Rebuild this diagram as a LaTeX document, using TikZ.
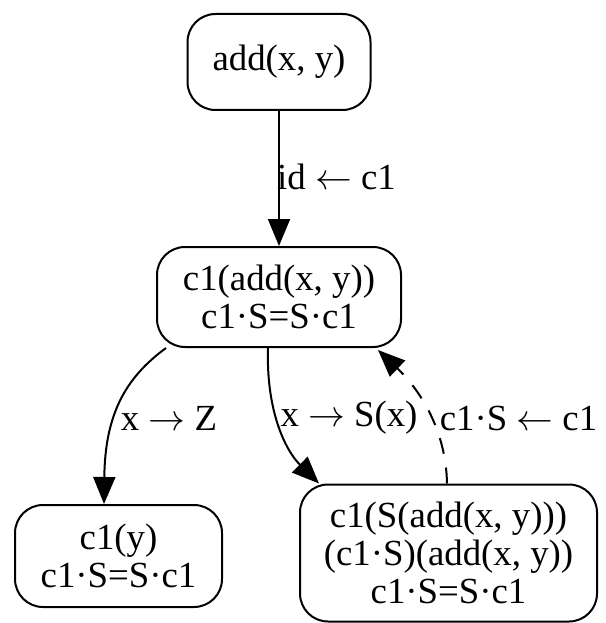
\RequirePackage{fix-cm}
\documentclass[tikz,border=0pt]{standalone}
\usepackage{fontspec}
\setmainfont{Liberation Serif}
\usetikzlibrary{arrows.meta,calc}
\begin{document}
\begin{tikzpicture}[x=1pt,y=-1pt,
  state/.style={draw, line width=2pt, rounded corners=28pt, inner sep=0pt, align=center, font=\fontsize{36.8}{38}\selectfont},
  lbl/.style={inner sep=0pt, font=\fontsize{36.8}{38}\selectfont},
  edge/.style={line width=2pt, -{Triangle[length=27pt,width=22pt]}},
  dashedge/.style={edge, dash pattern=on 16pt off 14pt},
]
\useasboundingbox (0,0) rectangle (605,623);
\node[state, minimum width=183pt, minimum height=96pt] (n1) at (279,62) {add(x, y)};
\node[state, minimum width=244pt, minimum height=100pt] (n2) at (279,297) {c1(add(x, y))\\c1·S=S·c1};
\node[state, minimum width=207pt, minimum height=102pt] (n3) at (118.5,556) {c1(y)\\c1·S=S·c1};
\node[state, minimum width=297pt, minimum height=137pt] (n4) at (448.5,553) {c1(S(add(x, y)))\\(c1·S)(add(x, y))\\c1·S=S·c1};

\draw[edge] (n1.south) -- (n2.north);
\draw[edge] ($(n2.south west)+(10,0)$) .. controls (125,378) and (105,415) .. ($(n3.north west)+(90,0)$);
\draw[edge] ($(n2.south)+(-11,0)$) .. controls (266,410) and (285,450) .. ($(n4.north west)+(20,0)$);
\draw[dashedge] ($(n4.north west)+(148,0)$) .. controls (446,430) and (420,390) .. ($(n2.south east)+(-24,2)$);

\node[lbl, anchor=west] (l1) at (277,177) {id $\leftarrow$ c1};
\node[lbl] (l2) at (169,418) {x $\rightarrow$ Z};
\node[lbl] (l3) at (349,418) {x $\rightarrow$ S(x)};
\node[lbl] (l4) at (518.5,418) {c1·S $\leftarrow$ c1};
\end{tikzpicture}
\end{document}
